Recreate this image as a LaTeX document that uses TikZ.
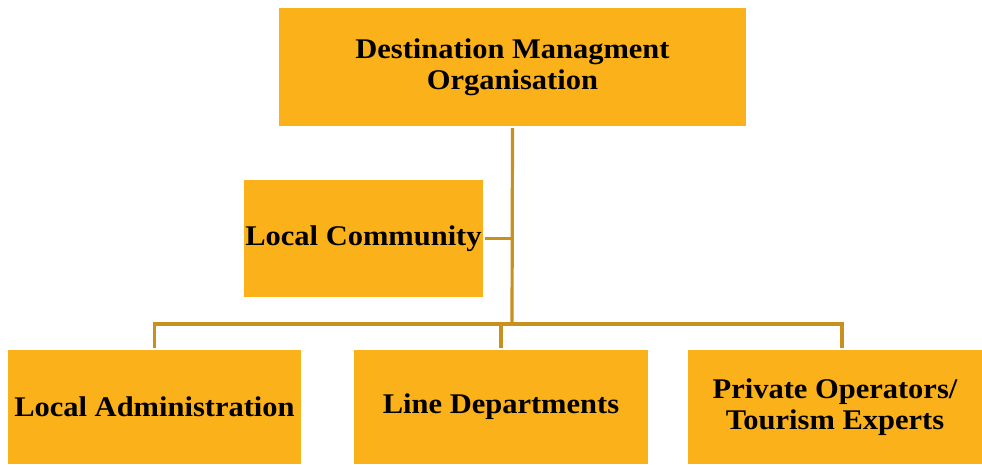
\documentclass[tikz,border=0pt]{standalone}
\usepackage{fontspec}
\setmainfont{Liberation Serif}[BoldFeatures={FakeStretch=1.07}]
\begin{document}
\begin{tikzpicture}[x=1pt,y=-1pt,
  box/.style={fill=boxfill,draw=none,inner sep=0pt,align=center,
    font=\fontsize{28.5}{31}\selectfont\bfseries},
  link/.style={draw=linec,line width=3.2pt}]
\definecolor{boxfill}{HTML}{FBB11A}
\definecolor{linec}{HTML}{C8901C}
\useasboundingbox (0,0) rectangle (982,464);
\node[box,minimum width=467pt,minimum height=118pt] (dmo) at (512.5,67) {Destination Managment\\Organisation};
\node[box,minimum width=239pt,minimum height=117pt] (lc) at (363.5,238.5) {Local Community};
\node[box,minimum width=293pt,minimum height=114pt] (la) at (154.5,407) {Local Administration};
\node[box,minimum width=294pt,minimum height=114pt] (ld) at (501,407) {Line Departments};
\node[box,minimum width=294pt,minimum height=114pt] (po) at (835,407) {Private Operators/\\Tourism Experts};
\coordinate (j) at (512,324);
\coordinate (pj) at (842,324);
\draw[link,shorten <=2pt] (dmo.south) -- (j);
\draw[link,shorten <=2pt] (lc.east) -- (lc.east -| j);
\draw[link,shorten <=2pt] (la.north) |- (j);
\draw[link] (j) -- (pj) -- (pj |- po.north) [shorten >=2pt];
\draw[link,shorten <=2pt] (ld.north) -- (ld.north |- j);
\end{tikzpicture}
\end{document}
